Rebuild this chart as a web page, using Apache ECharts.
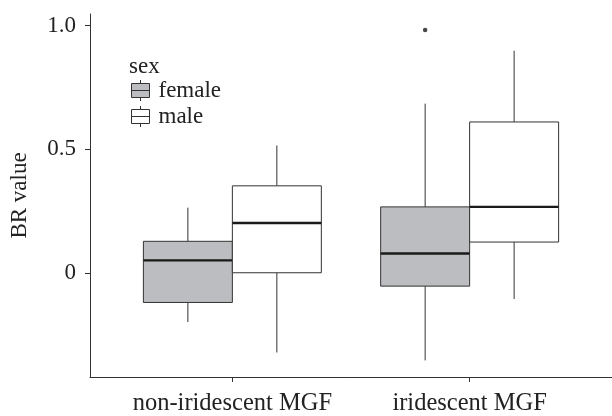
<!DOCTYPE html>
<html>
<head>
<meta charset="utf-8">
<script src="https://cdn.jsdelivr.net/npm/echarts@6/dist/echarts.min.js"></script>
<style>html,body{margin:0;padding:0;background:#fff;}#c{width:612px;height:416px;}</style>
</head>
<body>
<div id="c"></div>
<script>
// ---- data ----
var categories = ['non-iridescent MGF', 'iridescent MGF'];
var seriesNames = ['female', 'male'];
// [min, Q1, median, Q3, max] per category
var femaleBox = [[-0.197, -0.118, 0.052, 0.129, 0.265], [-0.352, -0.052, 0.080, 0.268, 0.685]];
var maleBox = [[-0.320, 0.002, 0.203, 0.353, 0.516], [-0.104, 0.126, 0.268, 0.611, 0.899]];
// outliers: [category index, value]
var femaleOutliers = [[1, 0.982]];
var maleOutliers = [];
var yTicks = [0, 0.5, 1.0];
var yTickLabels = ['0', '0.5', '1.0'];

var FONT = 'Liberation Serif';
var TXT = '#222';
var dodge = [-0.1875, 0.1875];
var boxW = 0.375;
var fills = ['#bcbdc0', '#ffffff'];

function boxData(arr, si) {
  return arr.map(function (b, i) { return [i + 1 + dodge[si]].concat(b); });
}
function outData(arr, si) {
  return arr.map(function (o) { return [o[0] + 1 + dodge[si], o[1]]; });
}

function renderBox(fill) {
  return function (params, api) {
    var x = api.value(0);
    var pMax = api.coord([x, api.value(5)]);
    var pQ3 = api.coord([x, api.value(4)]);
    var pMed = api.coord([x, api.value(3)]);
    var pQ1 = api.coord([x, api.value(2)]);
    var pMin = api.coord([x, api.value(1)]);
    var w = api.size([boxW, 0])[0];
    var cx = pMed[0];
    return {
      type: 'group',
      children: [
        { type: 'line', shape: { x1: cx, y1: pMax[1], x2: cx, y2: pQ3[1] }, style: { stroke: '#333', lineWidth: 1 } },
        { type: 'line', shape: { x1: cx, y1: pQ1[1], x2: cx, y2: pMin[1] }, style: { stroke: '#333', lineWidth: 1 } },
        { type: 'rect', shape: { x: cx - w / 2, y: pQ3[1], width: w, height: pQ1[1] - pQ3[1] }, style: { fill: fill, stroke: '#333', lineWidth: 1 } },
        { type: 'line', shape: { x1: cx - w / 2, y1: pMed[1], x2: cx + w / 2, y2: pMed[1] }, style: { stroke: '#1a1a1a', lineWidth: 2.4 } }
      ]
    };
  };
}

var iconPath = 'path://M9,0 L9,3.5 M0,3.5 L18,3.5 L18,17.5 L0,17.5 Z M0,10.5 L18,10.5 M9,17.5 L9,21';

var chart = echarts.init(document.getElementById('c'), null, { renderer: 'canvas' });
chart.setOption({
  animation: false,
  backgroundColor: '#fff',
  title: {
    text: 'sex', left: 129, top: 55, padding: 0,
    textStyle: { fontFamily: FONT, fontSize: 23, fontWeight: 'normal', color: TXT }
  },
  legend: {
    orient: 'vertical', left: 131, top: 79, padding: 0,
    itemWidth: 18, itemHeight: 21, itemGap: 3,
    textStyle: { fontFamily: FONT, fontSize: 23, color: TXT, padding: [0, 0, 0, 4] },
    data: [
      { name: 'female', icon: iconPath, itemStyle: { color: fills[0], borderColor: '#333', borderWidth: 1 } },
      { name: 'male', icon: iconPath, itemStyle: { color: fills[1], borderColor: '#333', borderWidth: 1 } }
    ]
  },
  grid: { left: 87, right: -3, top: 14, bottom: 33.3, containLabel: false },
  xAxis: {
    type: 'value', min: 0.4, max: 2.6,
    splitLine: { show: false },
    axisLine: { show: true, onZero: false, lineStyle: { color: '#333', width: 1 } },
    axisTick: { show: true, length: 5, customValues: [1, 2], lineStyle: { color: '#333' } },
    axisLabel: {
      customValues: [1, 2], margin: 14,
      fontFamily: FONT, fontSize: 24.5, color: TXT,
      formatter: function (v) { return categories[Math.round(v) - 1] || ''; }
    }
  },
  yAxis: {
    type: 'value', min: -0.419, max: 1.047,
    name: 'BR value', nameLocation: 'middle', nameGap: 59, nameRotate: 90,
    nameTextStyle: { fontFamily: FONT, fontSize: 23, color: TXT },
    splitLine: { show: false },
    axisLine: { show: true, onZero: false, lineStyle: { color: '#333', width: 1 } },
    axisTick: { show: true, length: 5, customValues: yTicks, lineStyle: { color: '#333' } },
    axisLabel: {
      customValues: yTicks, margin: 14,
      fontFamily: FONT, fontSize: 23, color: TXT,
      formatter: function (v) {
        for (var i = 0; i < yTicks.length; i++) { if (Math.abs(v - yTicks[i]) < 1e-9) return yTickLabels[i]; }
        return '';
      }
    }
  },
  series: [
    {
      name: 'female', type: 'custom', renderItem: renderBox(fills[0]),
      itemStyle: { color: fills[0], borderColor: '#333' },
      encode: { x: 0, y: [1, 2, 3, 4, 5] },
      data: boxData(femaleBox, 0)
    },
    {
      name: 'male', type: 'custom', renderItem: renderBox(fills[1]),
      itemStyle: { color: fills[1], borderColor: '#333' },
      encode: { x: 0, y: [1, 2, 3, 4, 5] },
      data: boxData(maleBox, 1)
    },
    {
      name: 'female', type: 'scatter', symbol: 'circle', symbolSize: 4.5,
      itemStyle: { color: '#1a1a1a' },
      data: outData(femaleOutliers, 0)
    },
    {
      name: 'male', type: 'scatter', symbol: 'circle', symbolSize: 4.5,
      itemStyle: { color: '#1a1a1a' },
      data: outData(maleOutliers, 1)
    }
  ]
});
</script>
</body>
</html>
